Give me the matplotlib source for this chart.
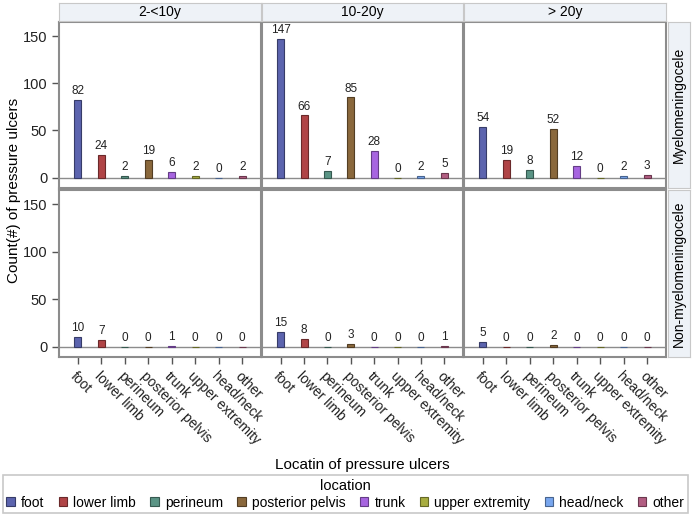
import matplotlib.pyplot as plt
import matplotlib.colors as mcolors
from matplotlib.patches import Patch

plt.rcParams['font.family'] = ['Liberation Sans', 'DejaVu Sans']

# data
locations = ['foot', 'lower limb', 'perineum', 'posterior pelvis', 'trunk',
             'upper extremity', 'head/neck', 'other']
age_groups = ['2-<10y', '10-20y', '> 20y']
row_groups = ['Myelomeningocele', 'Non-myelomeningocele']

myelo_2_10 = [82, 24, 2, 19, 6, 2, 0, 2]
myelo_10_20 = [147, 66, 7, 85, 28, 0, 2, 5]
myelo_20 = [54, 19, 8, 52, 12, 0, 2, 3]
non_2_10 = [10, 7, 0, 0, 1, 0, 0, 0]
non_10_20 = [15, 8, 0, 3, 0, 0, 0, 1]
non_20 = [5, 0, 0, 2, 0, 0, 0, 0]

colors = ['#5C64AE', '#B04446', '#5A9485', '#8A683C', '#A765E0',
          '#A8AD40', '#78A6EE', '#B25E82']


def darker(c, f=0.6):
    r, g, b = mcolors.to_rgb(c)
    return (r * f, g * f, b * f)


edges = [darker(c) for c in colors]

W, H = 692, 516
fig = plt.figure(figsize=(W / 100, H / 100), dpi=100)


def px(x0, y0, x1, y1):
    return [x0 / W, 1 - y1 / H, (x1 - x0) / W, (y1 - y0) / H]


cols = [(59, 261), (262, 463), (464, 666)]
rows = [(22, 188), (190, 357)]
data = [[myelo_2_10, myelo_10_20, myelo_20], [non_2_10, non_10_20, non_20]]
edge = '#8C8C8C'
strip_bg = '#EEF2F7'

for r, (y0, y1) in enumerate(rows):
    for c, (x0, x1) in enumerate(cols):
        ax = fig.add_axes(px(x0, y0, x1, y1))
        vals = data[r][c]
        xs = range(len(locations))
        ax.bar(xs, vals, width=0.3, color=colors, edgecolor=edges, linewidth=0.8)
        for x, v in zip(xs, vals):
            ax.text(x, v + 3, str(v), ha='center', va='bottom', fontsize=8.5, color='#222222')
        ax.axhline(0, color=edge, lw=1, zorder=0)
        ax.set_xlim(-0.8, 7.8)
        ax.set_ylim(-11, 165)
        for s in ax.spines.values():
            s.set_color(edge)
            s.set_linewidth(1.5)
        ax.tick_params(colors='#555555', labelcolor='#222222', length=5, width=1)
        ax.set_yticks([0, 50, 100, 150])
        if c == 0:
            ax.tick_params(axis='y', labelsize=10.5)
        else:
            ax.tick_params(axis='y', left=False, labelleft=False)
        ax.set_xticks(list(xs))
        if r == 1:
            ax.set_xticklabels(locations, rotation=-45, ha='left', va='top',
                               rotation_mode='anchor', fontsize=10)
        else:
            ax.tick_params(axis='x', bottom=False, labelbottom=False)

# column headers
for (x0, x1), name in zip(cols, age_groups):
    sax = fig.add_axes(px(x0, 3, x1, 21))
    sax.set_facecolor(strip_bg)
    sax.set_xticks([])
    sax.set_yticks([])
    for s in sax.spines.values():
        s.set_color('#C8C8C8')
    sax.text(0.5, 0.5, name, ha='center', va='center', fontsize=10, transform=sax.transAxes)

# row headers
for (y0, y1), name in zip(rows, row_groups):
    sax = fig.add_axes(px(668, y0, 690, y1))
    sax.set_facecolor(strip_bg)
    sax.set_xticks([])
    sax.set_yticks([])
    for s in sax.spines.values():
        s.set_color('#C8C8C8')
    sax.text(0.5, 0.5, name, ha='center', va='center', rotation=90, fontsize=10,
             transform=sax.transAxes)

fig.text(14 / W, 1 - 190 / H, 'Count(#) of pressure ulcers', rotation=90,
         ha='center', va='center', fontsize=11)
fig.text(362 / W, 1 - 465 / H, 'Locatin of pressure ulcers', ha='center', va='center',
         fontsize=11)

handles = [Patch(facecolor=col, edgecolor=e, linewidth=0.8, label=lab)
           for col, e, lab in zip(colors, edges, locations)]
leg = fig.legend(handles=handles, loc='lower left',
                 bbox_to_anchor=(3 / W, 1 - 513 / H, 685 / W, 36 / H), mode='expand',
                 ncol=8, title='location', fontsize=10, title_fontsize=10.5,
                 frameon=True, fancybox=False, edgecolor='#BBBBBB', handlelength=0.6,
                 handleheight=0.6, handletextpad=0.45, columnspacing=0.85,
                 borderpad=0.25, labelspacing=0.2, borderaxespad=0)
leg.get_frame().set_linewidth(1.2)

fig.savefig('out.png', dpi=100)
